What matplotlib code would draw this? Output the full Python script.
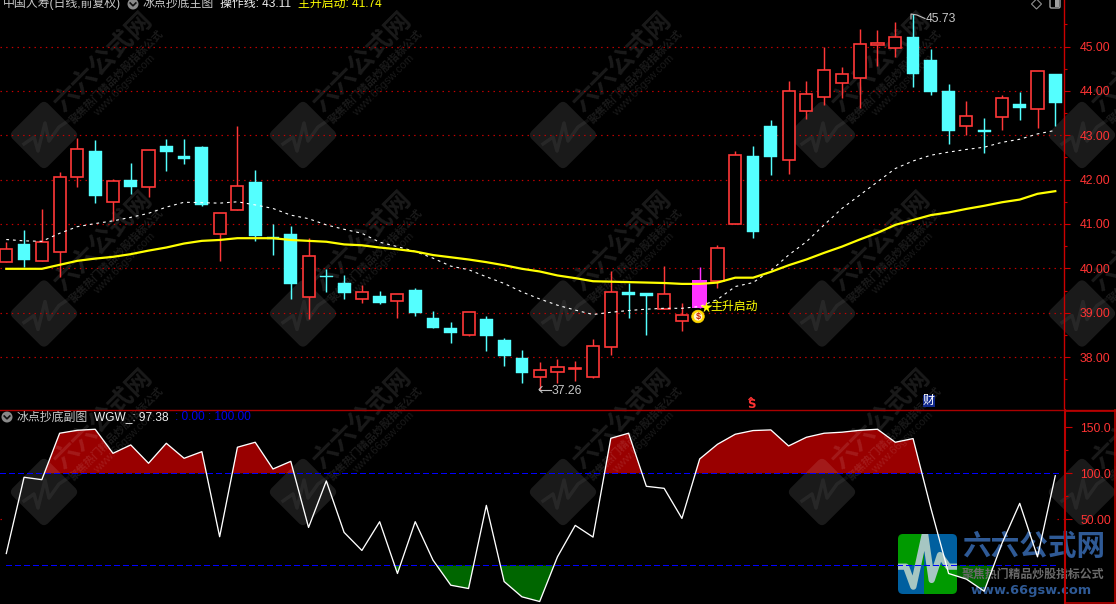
import matplotlib
matplotlib.use("Agg")
import matplotlib.pyplot as plt
from matplotlib.patches import Rectangle, FancyBboxPatch, Circle, Polygon
from matplotlib.transforms import Affine2D
import numpy as np

FONT = ['Liberation Sans', 'Noto Sans CJK SC', 'DejaVu Sans']
plt.rcParams['font.family'] = FONT

# ---- data ----
opens = [40.15,40.55,40.17,40.36,42.07,42.64,41.49,41.99,41.83,42.76,42.53,42.73,40.77,41.31,41.95,40.70,40.77,39.36,39.82,39.67,39.31,
         39.38,39.26,39.51,38.88,38.66,38.50,38.86,38.38,37.98,37.56,37.67,37.74,37.56,38.23,39.47,39.44,39.08,38.82,39.11,39.72,
         41.01,42.53,43.21,42.45,43.55,43.87,44.18,44.30,45.04,44.97,45.21,44.70,44.00,43.21,43.11,43.40,43.70,43.60,44.38]
closes = [40.43,40.19,40.59,42.07,42.68,41.64,41.96,41.84,42.66,42.62,42.46,41.43,41.24,41.85,40.74,40.67,39.65,40.27,39.80,39.44,39.46,
          39.23,39.42,39.00,38.66,38.54,39.01,38.48,38.02,37.64,37.70,37.77,37.76,38.24,39.46,39.40,39.38,39.42,38.94,39.74,40.45,
          42.55,40.83,42.52,43.99,43.92,44.46,44.37,45.05,45.09,45.21,44.39,43.98,43.10,43.43,43.08,43.85,43.62,44.44,43.73]
highs = [40.60,40.86,41.34,42.17,42.94,42.89,42.02,42.37,42.66,42.92,42.92,42.76,41.24,43.21,42.22,41.00,40.95,40.68,39.98,39.85,39.62,
         39.49,39.42,39.55,39.04,38.79,39.01,38.93,38.43,38.16,37.89,37.96,37.91,38.41,39.94,39.67,39.44,40.05,39.22,40.03,40.53,
         42.64,42.76,43.34,44.22,44.22,44.99,44.54,45.39,45.37,45.55,45.73,44.94,44.15,43.77,43.39,43.91,43.97,44.44,44.38]
lows = [40.15,40.04,40.17,39.81,41.84,41.48,41.07,41.68,41.61,42.20,42.36,41.41,40.17,41.31,40.62,40.30,39.31,38.86,39.47,39.31,39.22,
        39.20,38.89,38.93,38.66,38.32,38.48,38.14,37.80,37.42,37.26,37.42,37.46,37.54,38.05,38.88,38.50,39.08,38.59,39.11,39.56,
        41.01,40.68,42.10,42.13,43.37,43.69,43.85,43.62,44.57,44.77,44.09,43.91,42.81,43.01,42.61,43.12,43.35,43.17,43.21]
signal_candle = 39

start_line = [39.99,39.99,39.99,40.08,40.17,40.22,40.26,40.32,40.40,40.47,40.56,40.62,40.64,40.68,40.68,40.68,40.64,40.62,40.60,40.54,40.52,
              40.47,40.43,40.38,40.30,40.25,40.20,40.14,40.07,39.99,39.93,39.84,39.78,39.71,39.70,39.69,39.68,39.67,39.65,39.65,39.68,
              39.79,39.79,39.92,40.07,40.20,40.35,40.49,40.65,40.80,40.98,41.09,41.20,41.26,41.34,41.41,41.49,41.55,41.68,41.74]
op_line = [40.65,40.62,40.61,40.79,40.94,41.01,41.07,41.15,41.24,41.38,41.49,41.48,41.47,41.50,41.43,41.35,41.20,41.12,40.98,40.88,40.79,
           40.59,40.49,40.38,40.23,40.05,39.97,39.81,39.66,39.47,39.31,39.17,39.06,38.96,39.01,39.05,39.08,39.10,39.10,39.14,39.30,
           39.59,39.68,39.95,40.30,40.60,40.98,41.35,41.65,41.95,42.25,42.42,42.55,42.62,42.68,42.73,42.84,42.91,43.03,43.11]
wgw = [13.0,95.7,93.1,143.5,146.7,147.8,121.7,130.8,110.9,132.6,116.3,123.5,31.2,128.3,133.7,104.7,113.0,41.3,91.7,35.9,16.3,
       47.5,-8.7,47.5,5.8,-21.4,-25.0,65.2,-17.4,-34.0,-39.1,9.4,43.5,30.8,138.0,143.5,85.9,83.7,51.1,115.6,131.5,142.4,
       146.4,147.1,129.7,139.1,143.5,144.6,146.7,147.8,133.7,137.7,62.3,-8.7,-14.8,-27.9,23.9,67.4,9.4,97.38]

price_ticks = [38, 39, 40, 41, 42, 43, 44, 45]
price_labels = ['38.00','39.00','40.00','41.00','42.00','43.00','44.00','45.00']
price_minor = [37.5, 38.5, 39.5, 40.5, 41.5, 42.5, 43.5, 44.5, 45.5]
sub_ticks = [50, 100, 150]
sub_labels = ['50.00', '100.0', '150.0']
sub_minor = [75, 125]

BG = '#000000'; RED = '#ff3838'; CYAN = '#54ffff'; GRID = '#c80000'; AXIS = '#cc0000'
W, H = 1116, 604
X0, X1 = -0.354, 59.49
P0, P1 = 36.853, 46.048
S0, S1 = -41.8, 168.7
xs = np.arange(len(opens))

fig = plt.figure(figsize=(W/100, H/100), dpi=100, facecolor=BG)

def rect(l, t, r, b):
    return [l/W, 1-b/H, (r-l)/W, (b-t)/H]

def style(ax, ylim):
    ax.set_xlim(X0, X1); ax.set_ylim(*ylim)
    ax.patch.set_alpha(0)
    ax.set_xticks([])
    for s in ax.spines.values():
        s.set_visible(False)

# back layer : area fills of the sub chart
ax_back = fig.add_axes(rect(0, 410, 1064, H), zorder=1)
style(ax_back, (S0, S1))
ax_back.patch.set_alpha(1); ax_back.patch.set_facecolor(BG)
ax_back.set_yticks([])
w = np.array(wgw, float)
ax_back.fill_between(xs, 100, w, where=w >= 100, interpolate=True, color='#990000', lw=0)
ax_back.fill_between(xs, 0, w, where=w <= 0, interpolate=True, color='#006600', lw=0)

# pixel layer : watermark and logo
ax_wm = fig.add_axes([0, 0, 1, 1], zorder=2)
ax_wm.set_xlim(0, W); ax_wm.set_ylim(H, 0); ax_wm.axis('off'); ax_wm.patch.set_alpha(0)
WM = (1, 1, 1, 0.105)
for cy in (135, 313.5, 492):
    for cx in (44, 303, 563, 822, 1082):
        tr = Affine2D().rotate_deg(45).translate(cx, cy) + ax_wm.transData
        ax_wm.add_patch(FancyBboxPatch((-25, -25), 50, 50, boxstyle='round,pad=0,rounding_size=6',
                                       fc=WM, ec='none', transform=tr))
        ax_wm.plot([cx-20, cx-10, cx-6, cx+1, cx+5, cx+15, cx+24],
                   [cy+9, cy+2, cy+16, cy-12, cy+6, cy-8, cy-14], color=(1, 1, 1, 0.06), lw=2.5)
        ax_wm.text(cx+59, cy-73, '六六公式网', color=WM, fontsize=18.5, fontweight='bold', rotation=45,
                   ha='center', va='center', rotation_mode='anchor')
        ax_wm.text(cx+73, cy-58, '聚焦热门精品炒股指标公式', color=WM, fontsize=7.7, fontweight='bold', rotation=45,
                   ha='center', va='center', rotation_mode='anchor')
        ax_wm.text(cx+81, cy-50, 'www.66gsw.com', color=WM, fontsize=8, rotation=45,
                   ha='center', va='center', rotation_mode='anchor')

# bottom-right logo
box = FancyBboxPatch((898, 534), 59, 60, boxstyle='round,pad=0,rounding_size=5', fc='none', ec='none')
ax_wm.add_patch(box)
for (l, t, ww, hh, c) in [(898, 534, 26, 31, '#009a00'), (924, 534, 33, 31, '#005f9f'),
                          (898, 565, 26, 29, '#005f9f'), (924, 565, 33, 29, '#009a00')]:
    r = Rectangle((l, t), ww, hh, fc=c, ec='none')
    ax_wm.add_patch(r); r.set_clip_path(box)
lz = np.array([(25,125),(48,125),(70,185),(105,25),(125,165),(150,90),(175,125),(205,125)], float)
pulse, = ax_wm.plot(890+lz[:,0]/3, 525+lz[:,1]/3, color='#a6c6c2', lw=4.5, solid_joinstyle='round')
pulse.set_clip_path(box)
ax_wm.text(1033.5, 547.5, '六六公式网', color='#2f5a96', fontsize=20.6, fontweight='bold', ha='center', va='center')
ax_wm.text(1033, 575, '聚焦热门精品炒股指标公式', color='#6a6a6a', fontsize=8.6, fontweight='bold', ha='center', va='center')
ax_wm.text(1031, 590.5, 'www.66gsw.com', color='#2f5a96', fontsize=9.4, fontweight='bold', family='DejaVu Sans',
           ha='center', va='center')

# main chart
ax1 = fig.add_axes(rect(0, 0, 1064, 408), zorder=3)
style(ax1, (P0, P1))
for t in price_ticks:
    ax1.axhline(t, color=GRID, lw=0.85, dashes=(1.2, 3.6), zorder=1)
cw = 0.68
for i, (o, c, h, l) in enumerate(zip(opens, closes, highs, lows)):
    up = c >= o
    col = '#ff33ff' if i == signal_candle else (RED if up else CYAN)
    ax1.vlines(i, l, h, color=col, lw=1.05, zorder=3)
    lo, hi = min(o, c), max(o, c)
    if i == signal_candle:
        ax1.add_patch(Rectangle((i-0.42, lo), 0.84, hi-lo, fc=col, ec='none', zorder=4))
    elif up:
        ax1.add_patch(Rectangle((i-cw/2, lo), cw, hi-lo, fc=BG, ec=col, lw=1.2, zorder=4))
    else:
        ax1.add_patch(Rectangle((i-cw/2-0.02, lo), cw+0.04, hi-lo, fc=col, ec=col, lw=0.3, zorder=4))
ax1.plot(xs, op_line, color='white', lw=0.8, dashes=(2.5, 3.5), zorder=5)
ax1.plot(xs, start_line, color='#ffff00', lw=1.6, zorder=5)
ax1.yaxis.tick_right()
ax1.set_yticks(price_ticks, price_labels)
ax1.set_yticks(price_minor, minor=True)
ax1.tick_params(axis='y', which='major', length=4.3, width=0.8, color=AXIS, labelcolor='#ff3333', labelsize=8.8, pad=7.2)
ax1.tick_params(axis='y', which='minor', length=2.2, width=0.8, color=AXIS)
ax1.spines['right'].set_visible(True); ax1.spines['right'].set_color(AXIS); ax1.spines['right'].set_linewidth(1)

# sub chart lines
ax2 = fig.add_axes(rect(0, 410, 1064, H), zorder=3)
style(ax2, (S0, S1))
BLUE_DASH = (0, (4, 2.6))
DOT = (0, (1.2, 3.6))
ax2.hlines(100, X0, 59.4, color='#0000ff', lw=1.0, linestyles=BLUE_DASH, zorder=2, antialiased=False)
ax2.hlines(0, 0, 59, color='#0000ff', lw=1.0, linestyles=BLUE_DASH, zorder=2, antialiased=False)
ax2.hlines(50, X0, -0.05, color=GRID, lw=0.85, linestyles=DOT, zorder=2)
ax2.hlines(50, 59.1, 59.45, color=GRID, lw=0.85, linestyles=DOT, zorder=2)
ax2.plot(xs, wgw, color='white', lw=0.95, zorder=4)
ax2.yaxis.tick_right()
ax2.set_yticks(sub_ticks, sub_labels)
ax2.set_yticks(sub_minor, minor=True)
ax2.tick_params(axis='y', which='major', length=5.5, width=0.8, color=AXIS, labelcolor='#ff3333', labelsize=8.8, pad=6.2)
ax2.tick_params(axis='y', which='minor', length=3, width=0.8, color=AXIS)

# top layer : frames, headers, annotations
ax_top = fig.add_axes([0, 0, 1, 1], zorder=5)
ax_top.set_xlim(0, W); ax_top.set_ylim(H, 0); ax_top.axis('off'); ax_top.patch.set_alpha(0)
ax_top.plot([0, W], [409.5, 409.5], color='#aa0000', lw=1)
ax_top.plot([1065, 1065], [410, H], color='#bb0000', lw=1.5)
ax_top.plot([1065, W], [410.5, 410.5], color='#bb0000', lw=1.2)
ax_top.plot([W-0.8, W-0.8], [410, H], color='#bb0000', lw=1.2)
ax_top.plot([1065, W], [H-0.8, H-0.8], color='#bb0000', lw=1.2)

def label(x, y, s, c, fs=8.6):
    ax_top.text(x, y, s, color=c, fontsize=fs, ha='left', va='center')

def chk(cx, cy):
    ax_top.add_patch(Circle((cx, cy), 5.5, fc='#8a8a8a', ec='none'))
    ax_top.plot([cx-2.8, cx, cx+2.8], [cy-1, cy+1.8, cy-1], color='#111111', lw=1.2)

label(3, 3.5, '中国人寿(日线,前复权)', '#c8c8c8')
chk(133, 4)
label(143, 3.5, '冰点抄底主图', '#c8c8c8')
label(220, 3.5, '操作线: 43.11', '#f0f0f0')
label(298, 3.5, '主升启动: 41.74', '#ffff00')
chk(7, 417)
label(17, 417.5, '冰点抄底副图', '#c8c8c8')
label(94, 417.5, 'WGW_: 97.38', '#f0f0f0')
label(175, 417.5, ': 0.00 : 100.00', '#0000f0')

ax_top.add_patch(Polygon([(1036.5, -1), (1041.5, 4), (1036.5, 9), (1031.5, 4)], fc='none', ec='#909090', lw=0.8))
ax_top.add_patch(FancyBboxPatch((1050, -2), 10, 10, boxstyle='round,pad=0,rounding_size=1.5', fc='none', ec='#a0a0a0', lw=1))
ax_top.add_patch(Rectangle((1055, 0), 3.5, 7, fc='#a0a0a0', ec='none'))

# high/low marks
ax_top.plot([911, 911, 917, 925], [19, 14, 15, 18.5], color='#c0c0c0', lw=0.8)
ax_top.text(926, 19.5, '45.73', color='#c8c8c8', fontsize=8.7, ha='left', va='center')
ax_top.plot([539, 551], [389.5, 389.5], color='#c0c0c0', lw=0.8)
ax_top.plot([542, 539, 542], [386.5, 389.5, 392.5], color='#c0c0c0', lw=0.8)
ax_top.text(552, 390.5, '37.26', color='#c8c8c8', fontsize=8.7, ha='left', va='center')

# signal marks
ax_top.add_patch(Circle((698, 316.5), 6.3, fc='#ffd800', ec='#ffd800', lw=0.5))
ax_top.add_patch(Circle((698, 316.5), 4.2, fc='#fff4d0', ec='none'))
ax_top.text(698, 316.5, '$', color='#cc2200', fontsize=6.5, fontweight='bold', ha='center', va='center')
ax_top.plot([706], [307], marker='*', ms=8.5, color='#ffff00', mec='none')
ax_top.text(710, 307, '主升启动', color='#ffff00', fontsize=8.6, ha='left', va='center')
ax_top.text(751, 404, 'S', color='#ff3333', fontsize=8.5, fontweight='bold', family='DejaVu Sans', ha='center', va='center')
ax_top.plot([749, 751, 753], [399.5, 397.5, 399.5], color='#ff3333', lw=1)
ax_top.add_patch(Rectangle((923, 395), 12, 12, fc='#10288c', ec='none'))
ax_top.text(929, 401, '财', color='white', fontsize=8.6, ha='center', va='center')

fig.savefig('out.png', dpi=100, facecolor=BG)
